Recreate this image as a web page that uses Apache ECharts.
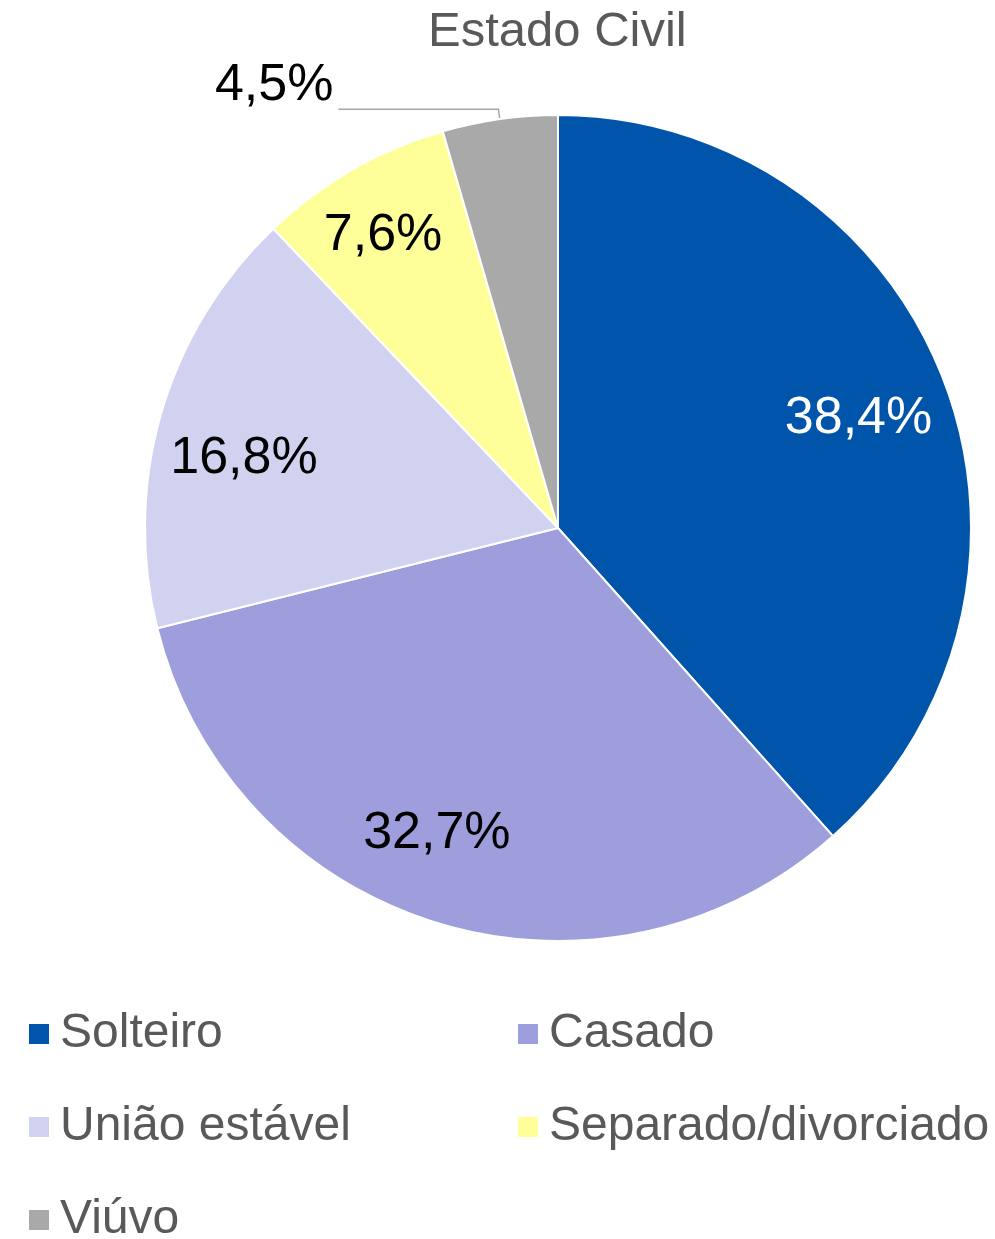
<!DOCTYPE html>
<html>
<head>
<meta charset="utf-8">
<script src="https://cdn.jsdelivr.net/npm/echarts@6/dist/echarts.min.js"></script>
<style>
html,body{margin:0;padding:0;background:#fff;}
#chart{width:995px;height:1239px;}
</style>
</head>
<body>
<div id="chart"></div>
<script>
const titleText = 'Estado Civil';
const categories = ['Solteiro', 'Casado', 'União estável', 'Separado/divorciado', 'Viúvo'];
const values = [38.4, 32.7, 16.8, 7.6, 4.5];
const colors = ['#0055AA', '#9E9EDD', '#D1D1F0', '#FFFF99', '#A9A9A9'];
const labelColors = ['#FFFFFF', '#000000', '#000000', '#000000', '#000000'];
const outsideIdx = 4;

const FONT = '"Liberation Sans", Arial, sans-serif';
const fmt = v => v.toFixed(1).replace('.', ',') + '%';
// small label nudges (style only) to mimic the original label placement
const labelNudge = [[-5, 7], [-25, -7], [0, 22], [-12, -9], [0, 0]];
// legend grid: two columns, three rows
const legendLeft = [27, 516, 27, 516, 27];
const legendTop = [1010, 1010, 1103, 1103, 1196];

const chart = echarts.init(document.getElementById('chart'));

const mainData = categories.map((name, i) => {
  const d = { name, value: values[i], itemStyle: { color: colors[i] } };
  if (i === outsideIdx) {
    d.label = {
      show: true, position: 'outside', color: '#000',
      fontFamily: FONT,
      formatter: p => '{a|' + fmt(p.value) + '}\n{b| }',
      rich: {
        a: { fontSize: 52, lineHeight: 52, color: '#000', fontFamily: FONT },
        b: { fontSize: 10, lineHeight: 48 }
      }
    };
    d.labelLine = { show: true, length: 10, length2: 160, lineStyle: { color: '#A6A6A6', width: 1.5 } };
  }
  return d;
});

const overlayData = categories.map((name, i) => ({
  name, value: values[i],
  itemStyle: { color: 'rgba(0,0,0,0)', borderWidth: 0 },
  label: { show: i !== outsideIdx, color: labelColors[i] }
}));

const legendText = { fontSize: 48, lineHeight: 40, color: '#595959', fontFamily: FONT, padding: [0, 0, 0, 5] };

chart.setOption({
  animation: false,
  title: {
    text: titleText, left: 428, top: 8, padding: 0,
    textStyle: { fontSize: 49, fontWeight: 'normal', color: '#595959', fontFamily: FONT }
  },
  legend: categories.map((name, i) => ({
    orient: 'horizontal', left: legendLeft[i], top: legendTop[i], padding: 0,
    itemWidth: 22, itemHeight: 22, icon: 'rect',
    data: [name],
    textStyle: legendText
  })),
  series: [
    {
      type: 'pie', center: [558, 528], radius: [0, 413], startAngle: 90, clockwise: true,
      avoidLabelOverlap: false, silent: true,
      itemStyle: { borderColor: '#fff', borderWidth: 2 },
      label: { show: false },
      labelLine: { show: false },
      data: mainData
    },
    {
      type: 'pie', center: [558, 528], radius: [235, 413], startAngle: 90, clockwise: true,
      avoidLabelOverlap: false, silent: true, legendHoverLink: false,
      label: { position: 'inside', fontSize: 52, fontFamily: FONT, formatter: p => fmt(p.value) },
      labelLine: { show: false },
      labelLayout: p => ({ dx: labelNudge[p.dataIndex][0], dy: labelNudge[p.dataIndex][1] }),
      data: overlayData
    }
  ]
});
</script>
</body>
</html>
